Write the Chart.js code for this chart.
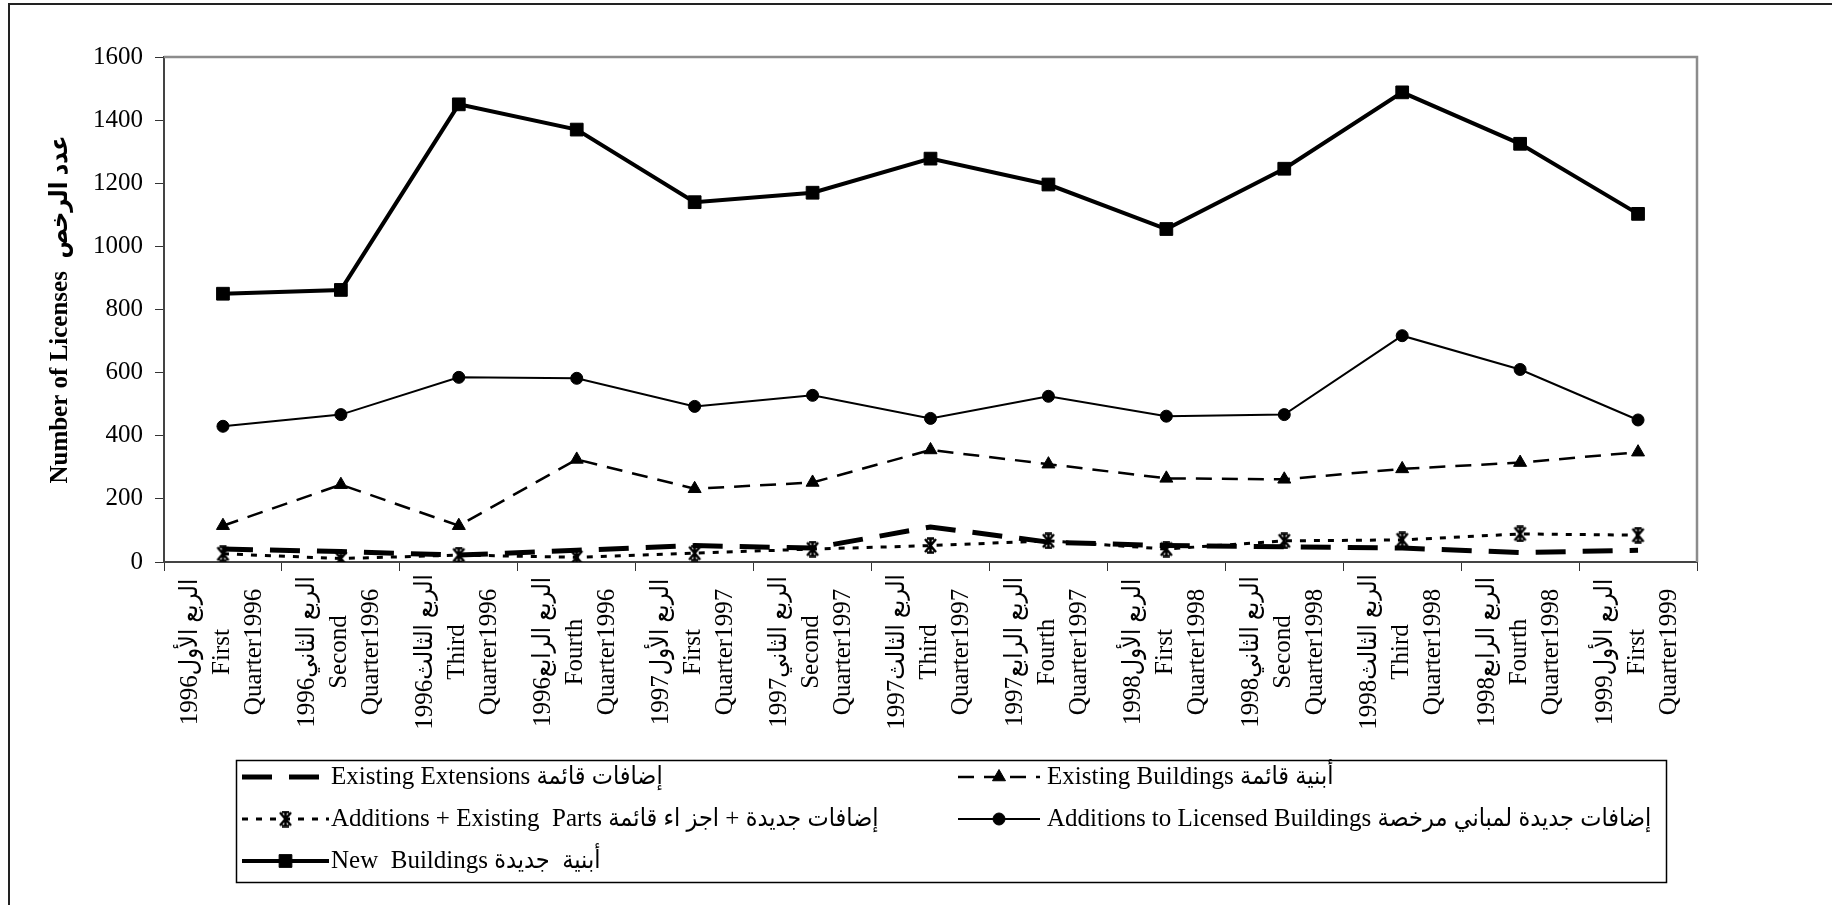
<!DOCTYPE html>
<html>
<head>
<meta charset="utf-8">
<script src="https://cdn.jsdelivr.net/npm/chart.js@4.4.0/dist/chart.umd.min.js"></script>
<style>
  html, body { margin: 0; padding: 0; background: #fff; }
  canvas { display: block; }
</style>
</head>
<body>
<canvas id="grafico" width="1832" height="905" style="width:1832px;height:905px"></canvas>
<script>
// Categorias (eixo x) - cada uma em 3 linhas
var categories = [
  ['1996الربع الأول', 'First', 'Quarter1996'],
  ['1996الربع الثاني', 'Second', 'Quarter1996'],
  ['1996الربع الثالث', 'Third', 'Quarter1996'],
  ['1996الربع الرابع', 'Fourth', 'Quarter1996'],
  ['1997الربع الأول', 'First', 'Quarter1997'],
  ['1997الربع الثاني', 'Second', 'Quarter1997'],
  ['1997الربع الثالث', 'Third', 'Quarter1997'],
  ['1997الربع الرابع', 'Fourth', 'Quarter1997'],
  ['1998الربع الأول', 'First', 'Quarter1998'],
  ['1998الربع الثاني', 'Second', 'Quarter1998'],
  ['1998الربع الثالث', 'Third', 'Quarter1998'],
  ['1998الربع الرابع', 'Fourth', 'Quarter1998'],
  ['1999الربع الأول', 'First', 'Quarter1999']
];

// Series
var existingExtensions = [41, 33, 22, 37, 52, 44, 111, 63, 52, 48, 44, 30, 37];
var existingBuildings  = [115, 245, 115, 325, 232, 252, 355, 310, 265, 262, 295, 315, 348];
var additionsParts     = [26, 11, 22, 15, 28, 41, 52, 67, 41, 67, 70, 89, 85];
var licensedAdditions  = [430, 467, 585, 582, 493, 528, 455, 525, 462, 467, 717, 610, 450];
var newBuildings       = [850, 862, 1450, 1370, 1140, 1170, 1278, 1196, 1055, 1246, 1488, 1325, 1103];

var yTicks = [0, 200, 400, 600, 800, 1000, 1200, 1400, 1600];

var serif = '"Liberation Serif", "DejaVu Sans Condensed", serif';

// marcador asterisco
function makeAsterisk() {
  var c = document.createElement('canvas');
  c.width = 15; c.height = 17;
  var g = c.getContext('2d');
  g.strokeStyle = '#000';
  g.lineWidth = 2.5;
  g.beginPath();
  g.moveTo(2, 2); g.lineTo(13, 15);
  g.moveTo(13, 2); g.lineTo(2, 15);
  g.moveTo(7.5, 1); g.lineTo(7.5, 16);
  g.moveTo(4, 1.5); g.lineTo(11, 1.5);
  g.moveTo(4, 15.5); g.lineTo(11, 15.5);
  g.stroke();
  return c;
}
var asterisk = makeAsterisk();

var data = {
  labels: categories,
  datasets: [{
    label: 'Existing Extensions إضافات قائمة',
    data: existingExtensions,
    borderColor: '#000', borderWidth: 5, borderDash: [30, 17],
    pointRadius: 0, fill: false
  }, {
    label: 'Existing Buildings أبنية قائمة',
    data: existingBuildings,
    borderColor: '#000', borderWidth: 2.5, borderDash: [16, 10],
    pointStyle: 'triangle', pointRadius: 7.5,
    pointBackgroundColor: '#000', pointBorderColor: '#000', pointBorderWidth: 1, fill: false
  }, {
    label: 'Additions + Existing  Parts إضافات جديدة + اجز اء قائمة',
    data: additionsParts,
    borderColor: '#000', borderWidth: 3, borderDash: [6, 8],
    pointStyle: asterisk, pointRadius: 7,
    pointBackgroundColor: '#000', pointBorderColor: '#000', fill: false
  }, {
    label: 'Additions to Licensed Buildings إضافات جديدة لمباني مرخصة',
    data: licensedAdditions,
    borderColor: '#000', borderWidth: 2,
    pointStyle: 'circle', pointRadius: 6,
    pointBackgroundColor: '#000', pointBorderColor: '#000', pointBorderWidth: 1, fill: false
  }, {
    label: 'New  Buildings أبنية  جديدة',
    data: newBuildings,
    borderColor: '#000', borderWidth: 4,
    pointStyle: 'rect', pointRadius: 9,
    pointBackgroundColor: '#000', pointBorderColor: '#000', pointBorderWidth: 1, fill: false
  }]
};

// moldura externa + borda da area do grafico
var framePlugin = {
  id: 'frame',
  beforeDraw: function (chart) {
    var c = chart.ctx;
    c.save();
    c.fillStyle = '#fff';
    c.fillRect(0, 0, chart.width, chart.height);
    c.strokeStyle = '#222';
    c.lineWidth = 2;
    c.beginPath();
    c.moveTo(9, chart.height);
    c.lineTo(9, 4);
    c.lineTo(chart.width, 4);
    c.stroke();
    c.restore();
  },
  afterDraw: function (chart) {
    var a = chart.chartArea, c = chart.ctx;
    c.save();
    c.strokeStyle = '#8c8c8c';
    c.lineWidth = 2.5;
    c.beginPath();
    c.moveTo(a.left, a.top);
    c.lineTo(a.right, a.top);
    c.lineTo(a.right, a.bottom);
    c.stroke();
    c.restore();
  }
};

// rotulos do eixo x (verticais, linhas centralizadas)
var xLabelPlugin = {
  id: 'xLabels',
  afterDraw: function (chart) {
    var xs = chart.scales.x, c = chart.ctx;
    c.save();
    c.fillStyle = '#000';
    c.font = '25px ' + serif;
    c.direction = 'ltr';
    c.textAlign = 'center';
    c.textBaseline = 'middle';
    categories.forEach(function (lines, i) {
      var x = xs.getPixelForValue(i);
      lines.forEach(function (txt, j) {
        c.save();
        c.translate(x - 1 + (j - 1) * 32, 652);
        c.rotate(-Math.PI / 2);
        c.fillText(txt, 0, 0);
        c.restore();
      });
    });
    c.restore();
  }
};

// legenda em caixa, duas colunas
var legendPlugin = {
  id: 'boxLegend',
  afterDraw: function (chart) {
    var c = chart.ctx;
    var slots = [[242, 329, 331, 777], [958, 1040, 1047, 777], [242, 329, 331, 819], [958, 1040, 1047, 819], [242, 329, 331, 861]];
    c.save();
    c.strokeStyle = '#000';
    c.lineWidth = 1.5;
    c.strokeRect(236.5, 760.5, 1430, 122);
    chart.data.datasets.forEach(function (ds, i) {
      var s = slots[i];
      c.strokeStyle = '#000';
      c.fillStyle = '#000';
      c.lineWidth = ds.borderWidth;
      c.setLineDash(ds.borderDash || []);
      c.beginPath();
      c.moveTo(s[0], s[3]);
      c.lineTo(s[1], s[3]);
      c.stroke();
      c.setLineDash([]);
      if (ds.pointRadius > 0) {
        c.lineWidth = ds.pointBorderWidth || 1;
        Chart.helpers.drawPoint(c, { pointStyle: ds.pointStyle, radius: ds.pointRadius, rotation: 0, borderWidth: ds.pointBorderWidth || 1 }, (s[0] + s[1]) / 2, s[3]);
      }
      c.font = '25px ' + serif;
      c.direction = 'ltr';
      c.textAlign = 'left';
      c.textBaseline = 'middle';
      c.fillText(ds.label, s[2], s[3]);
    });
    c.restore();
  }
};

var options = {
  responsive: false,
  animation: false,
  devicePixelRatio: 1,
  layout: { padding: { left: 0, top: 57, right: 135, bottom: 0 }, autoPadding: false },
  plugins: {
    legend: { display: false },
    tooltip: { enabled: false }
  },
  scales: {
    x: {
      offset: true,
      grid: { offset: true, drawOnChartArea: false, tickLength: 9, color: '#333', lineWidth: 1 },
      border: { color: '#444', width: 2 },
      ticks: { display: false },
      afterFit: function (s) { s.height = 343; }
    },
    y: {
      min: 0,
      max: 1600,
      afterBuildTicks: function (s) { s.ticks = yTicks.map(function (v) { return { value: v }; }); },
      ticks: {
        color: '#000', font: { family: serif, size: 25 }, padding: 12,
        callback: function (v) { return String(v); }
      },
      grid: { drawOnChartArea: false, tickLength: 9, color: '#333', lineWidth: 1 },
      border: { color: '#444', width: 2 },
      title: {
        display: true,
        text: 'Number of Licenses  عدد الرخص',
        color: '#000',
        font: { family: serif, size: 25, weight: 'bold' },
        padding: { top: 46, bottom: 0 }
      },
      afterFit: function (s) { s.width = 164; }
    }
  }
};

var ctx = document.getElementById('grafico').getContext('2d');
var meuGrafico = new Chart(ctx, {
  type: 'line',
  data: data,
  options: options,
  plugins: [framePlugin, xLabelPlugin, legendPlugin]
});
</script>
</body>
</html>
